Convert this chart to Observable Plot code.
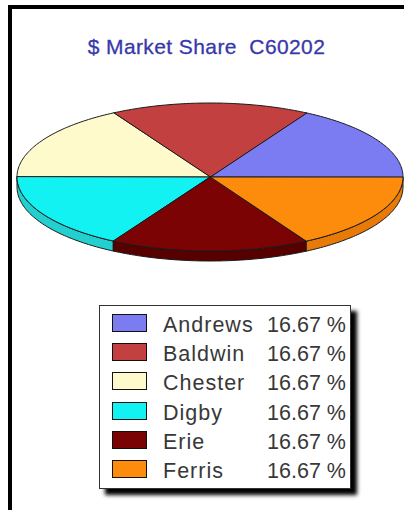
<!DOCTYPE html>
<html>
<head>
<meta charset="utf-8">
<script src="https://cdn.jsdelivr.net/npm/d3@7"></script>
<script src="https://cdn.jsdelivr.net/npm/@observablehq/plot@0.6"></script>
<style>
html,body{margin:0;padding:0;background:#fff;}
#frame{position:relative;width:404px;height:510px;overflow:hidden;background:#fff;font-family:"Liberation Sans",Arial,sans-serif;}
#bl{position:absolute;left:8px;top:5px;width:4px;height:505px;background:#000;z-index:3;}
#bt{position:absolute;left:8px;top:5px;width:396px;height:4px;background:#000;z-index:3;}
#title{position:absolute;left:0;width:413px;top:35px;line-height:24px;text-align:center;font-size:21px;letter-spacing:0.4px;color:#3838aa;white-space:pre;z-index:2;-webkit-text-stroke:0.3px #3838aa;}
#chart{position:absolute;left:0;top:0;z-index:1;}
#legend{position:absolute;left:99px;top:305px;width:250px;height:182px;border:1px solid #333;background:#fff;box-shadow:6px 6px 4px #000;z-index:2;}
.sw{position:absolute;left:12px;width:33px;height:16px;border:1.5px solid #111;}
.nm{position:absolute;left:63px;font-size:21.5px;letter-spacing:1px;line-height:24px;color:#383838;white-space:pre;}
.pc{position:absolute;right:4px;font-size:21.5px;line-height:24px;color:#383838;white-space:pre;}
g[aria-label="shadow"]{filter:blur(4px);}
</style>
</head>
<body>
<div id="frame">
  <div id="bl"></div><div id="bt"></div>
  <div id="title"></div>
  <div id="chart"></div>
  <div id="legend"></div>
</div>
<script>
const titleText = "$ Market Share  C60202";
const companies = ["Andrews", "Baldwin", "Chester", "Digby", "Erie", "Ferris"];
const shares = [16.67, 16.67, 16.67, 16.67, 16.67, 16.67];
const shareLabels = ["16.67 %", "16.67 %", "16.67 %", "16.67 %", "16.67 %", "16.67 %"];
const topColors = ["#7b7bf2", "#c2403f", "#fffacb", "#12f2f2", "#7c0303", "#fd8b0c"];
const sideColors = ["#5a5ac0", "#902c2c", "#d8d2a0", "#22d0d0", "#560000", "#e87a08"];

document.getElementById("title").textContent = titleText;

const depth = 10 / 74;
const shadowDx = 6 / 193, shadowDy = 9 / 74;
const N = 60;
const total = d3.sum(shares);

let acc = 0;
const slices = companies.map((name, i) => {
  const a0 = acc / total * 2 * Math.PI;
  acc += shares[i];
  const a1 = acc / total * 2 * Math.PI;
  return {name, i, a0, a1};
});

function arc(a0, a1) {
  const pts = [];
  for (let k = 0; k <= N; k++) pts.push(a0 + (a1 - a0) * k / N);
  return pts;
}

// top face wedges
const topPts = slices.flatMap(s => arc(s.a0, s.a1).map(a => ({name: s.name, x: Math.cos(a), y: Math.sin(a), cx: 0, cy: 0})));

// side walls (visible lower half)
const sideMarks = slices.map(s => {
  const lo = Math.max(s.a0, Math.PI), hi = Math.min(s.a1, 2 * Math.PI);
  if (hi <= lo) return null;
  const pts = arc(lo, hi).map(a => ({x: Math.cos(a), yt: Math.sin(a), yb: Math.sin(a) - depth}));
  return Plot.area(pts, {x1: "x", y1: "yt", x2: "x", y2: "yb", fill: sideColors[s.i], stroke: "#1a1a1a", strokeWidth: 1, curve: "linear"});
}).filter(Boolean);

// drop shadow
const shadowPts = arc(0, 2 * Math.PI).map(a => ({x: Math.cos(a) + shadowDx, y: Math.sin(a) - depth - shadowDy, cx: shadowDx, cy: -depth - shadowDy}));

const chart = Plot.plot({
  width: 404, height: 510,
  marginLeft: 17, marginRight: 1, marginTop: 103, marginBottom: 259,
  x: {domain: [-1, 1], axis: null},
  y: {domain: [-1, 1], axis: null},
  color: {domain: companies, range: topColors},
  style: {background: "transparent", overflow: "visible"},
  marks: [
    Plot.area(shadowPts, {x1: "x", y1: "y", x2: "cx", y2: "cy", fill: "#7a7a7a", fillOpacity: 0.8, ariaLabel: "shadow"}),
    ...sideMarks,
    Plot.area(topPts, {x1: "x", y1: "y", x2: "cx", y2: "cy", z: "name", fill: "name", stroke: "#1a1a1a", strokeWidth: 1, curve: "linear"})
  ]
});
document.getElementById("chart").appendChild(chart);

// legend
const legend = document.getElementById("legend");
companies.forEach((name, i) => {
  const sw = document.createElement("div");
  sw.className = "sw";
  sw.style.top = (8 + 29.2 * i) + "px";
  sw.style.background = topColors[i];
  legend.appendChild(sw);
  const nm = document.createElement("div");
  nm.className = "nm";
  nm.style.top = (7 + 29.2 * i) + "px";
  nm.textContent = name;
  legend.appendChild(nm);
  const pc = document.createElement("div");
  pc.className = "pc";
  pc.style.top = (7 + 29.2 * i) + "px";
  pc.textContent = shareLabels[i];
  legend.appendChild(pc);
});
</script>
</body>
</html>
